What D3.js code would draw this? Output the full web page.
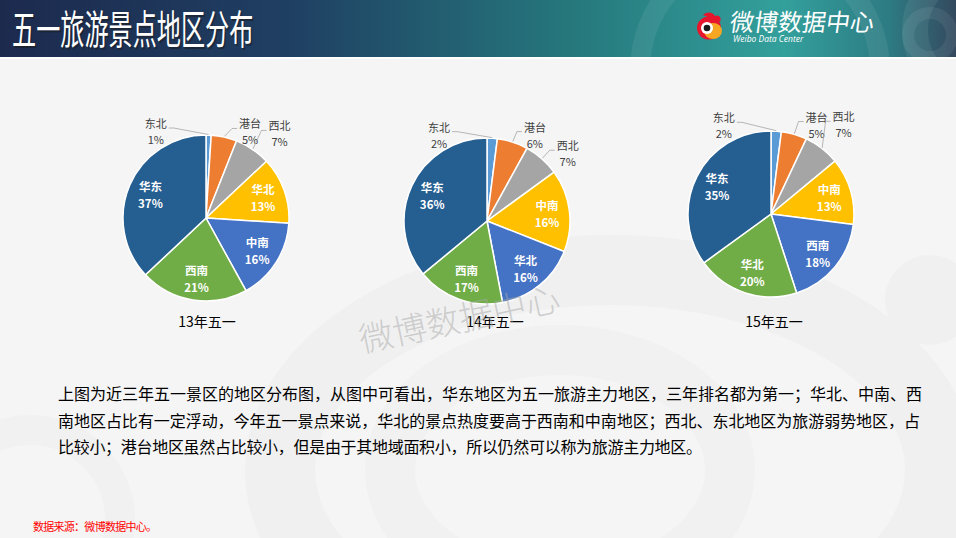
<!DOCTYPE html>
<html><head><meta charset="utf-8">
<script src="https://cdn.jsdelivr.net/npm/d3@7"></script>
<style>
html,body{margin:0;padding:0;background:#f5f5f5;}
svg{display:block;font-family:"Noto Sans CJK SC","Noto Sans",sans-serif;}
</style></head><body>
<svg id="chart" width="956" height="538"></svg>
<script>
// ---- data: share of May-Day scenic spot visits by region, slices clockwise from 12 o'clock
const years = ['13年五一','14年五一','15年五一'];
const regions13 = ['东北','港台','西北','华北','中南','西南','华东'];
const values13  = [1,5,7,13,16,21,37];
const regions14 = ['东北','港台','西北','中南','华北','西南','华东'];
const values14  = [2,6,7,16,16,17,36];
const regions15 = ['东北','港台','西北','中南','西南','华北','华东'];
const values15  = [2,5,7,13,18,20,35];
const sliceColors = ['#5b9bd5','#ed7d31','#a5a5a5','#ffc000','#4472c4','#70ad47','#255e91'];

const paragraph = [
  '上图为近三年五一景区的地区分布图，从图中可看出，华东地区为五一旅游主力地区，三年排名都为第一；华北、中南、西',
  '南地区占比有一定浮动，今年五一景点来说，华北的景点热度要高于西南和中南地区；西北、东北地区为旅游弱势地区，占',
  '比较小；港台地区虽然占比较小，但是由于其地域面积小，所以仍然可以称为旅游主力地区。'
];

// ---- layout
const W = 956, H = 538;
const R = 83;
const pieCenters = [[206,218],[487,221],[771,214]];
const captionDx = [1, 8, 3];
// where Excel dropped the small outside labels: [angle deg from top, radius factor]
const outsideSpots = [
  [[-30,1.21],[27,1.17],[41,1.35]],
  [[-29,1.19],[29,1.19],[50,1.27]],
  [[-28,1.21],[27,1.21],[39,1.39]]
];

const svg = d3.select('#chart');
const defs = svg.append('defs');

// background + faint weibo watermark
svg.append('rect').attr('width',W).attr('height',H).attr('fill','#f5f5f5');
const wm = svg.append('g').attr('fill','none');
wm.append('ellipse').attr('cx',610).attr('cy',470).attr('rx',330).attr('ry',200)
  .attr('stroke','#f0f0f0').attr('stroke-width',70);
wm.append('ellipse').attr('cx',560).attr('cy',470).attr('rx',170).attr('ry',120)
  .attr('stroke','#f1f1f1').attr('stroke-width',50);
wm.append('circle').attr('cx',930).attr('cy',300).attr('r',45).attr('fill','#f0f0f0');
wm.append('circle').attr('cx',30).attr('cy',520).attr('r',90).attr('stroke','#f1f1f1').attr('stroke-width',30);

// header band
const hg = defs.append('linearGradient').attr('id','hdr').attr('x1','0').attr('x2','1');
[['0%','#1c2a4e'],['30%','#1f3f62'],['60%','#26787d'],['82%','#33a09c'],['93%','#2d7b83'],['100%','#34495e']]
  .forEach(s=>hg.append('stop').attr('offset',s[0]).attr('stop-color',s[1]));
svg.append('rect').attr('width',W).attr('height',57).attr('fill','url(#hdr)');
const hc = svg.append('g').attr('fill','none').attr('stroke','#ffffff').attr('stroke-opacity',0.07);
hc.append('circle').attr('cx',975).attr('cy',30).attr('r',60).attr('stroke-width',26);
hc.append('circle').attr('cx',930).attr('cy',35).attr('r',22).attr('stroke-width',12);
hc.append('circle').attr('cx',760).attr('cy',70).attr('r',120).attr('stroke-width',20);
svg.append('rect').attr('y',57).attr('width',W).attr('height',2).attr('fill','#ffffff');

// condensed title: scale the glyphs horizontally
const title = '五一旅游景点地区分布';
svg.append('text').attr('transform','translate(13.5,45.5) scale(0.635,1.05)')
  .attr('font-size',38).attr('fill','#1a1a1a').attr('opacity',0.5).text(title);
svg.append('text').attr('transform','translate(12,44) scale(0.635,1.05)')
  .attr('font-size',38).attr('fill','#ffffff').text(title);

// weibo logo
const logo = svg.append('g').attr('transform','translate(709,28)');
logo.append('path').attr('d','M-6,-13 C-2,-17 4,-16 6,-12 C10,-14 13,-10 11,-6 Z').attr('fill','#e6162d');
logo.append('ellipse').attr('rx',12).attr('ry',11.5).attr('fill','#e6162d');
logo.append('ellipse').attr('cx',4).attr('cy',3).attr('rx',9).attr('ry',8).attr('fill','#f6a623');
logo.append('circle').attr('cx',-2).attr('cy',0).attr('r',6).attr('fill','#ffffff');
logo.append('circle').attr('cx',-2).attr('cy',0).attr('r',3.3).attr('fill','#1a1a1a');
svg.append('text').attr('transform','translate(729,31) skewX(-8)')
  .attr('font-size',24).attr('fill','#ffffff')
  .text('微博数据中心');
svg.append('text').attr('x',733).attr('y',42).attr('font-size',8.5).attr('fill','#ffffff')
  .attr('font-family','"Open Sans",sans-serif').attr('font-style','italic')
  .text('Weibo Data Center');

// ---- pies
const pieGen = d3.pie().sort(null).value(d=>d.v);
const arc = d3.arc().innerRadius(0).outerRadius(R);
const labelArc = d3.arc().innerRadius(R*0.73).outerRadius(R*0.73);
const polar = (deg, rad)=>[Math.sin(deg*Math.PI/180)*rad, -Math.cos(deg*Math.PI/180)*rad];

const allRegions = [regions13, regions14, regions15];
const allValues = [values13, values14, values15];

allValues.forEach((vals, i)=>{
  const data = vals.map((v,j)=>({name: allRegions[i][j], v}));
  const [cx, cy] = pieCenters[i];
  const g = svg.append('g').attr('transform',`translate(${cx},${cy})`);
  const arcs = pieGen(data);

  g.selectAll('path.slice').data(arcs).join('path')
    .attr('class','slice')
    .attr('d', arc)
    .attr('fill', (d,j)=>sliceColors[j])
    .attr('stroke','#ffffff').attr('stroke-width',1.5).attr('stroke-linejoin','round');

  // inside labels for the bigger slices
  const inner = arcs.filter(d=>d.data.v>=10);
  const il = g.selectAll('g.ilab').data(inner).join('g').attr('class','ilab')
    .attr('transform', d=>`translate(${labelArc.centroid(d)})`);
  il.append('text').attr('y',-8).text(d=>d.data.name);
  il.append('text').attr('y',9).text(d=>d.data.v+'%');
  il.selectAll('text').attr('text-anchor','middle').attr('dominant-baseline','central')
    .attr('fill','#ffffff').attr('font-size',11.5).attr('font-weight','bold');

  // outside labels with leader lines
  const outer = arcs.filter(d=>d.data.v<10);
  outer.forEach((d,k)=>{
    const [a, f] = outsideSpots[i][k];
    const [lx, ly] = polar(a, R*f);
    const mid = (d.startAngle + d.endAngle)/2*180/Math.PI;
    const p0 = polar(mid, R+0.5);
    const left = lx < p0[0];
    const ex = left ? lx + 13 : lx - 13;
    const ey = ly - 3;
    const p1 = [left ? ex + 5 : ex - 5, ey];
    g.append('path')
      .attr('d', d3.line()([p0, p1, [ex, ey]]))
      .attr('fill','none').attr('stroke','#a6a6a6').attr('stroke-width',0.8);
    const t = g.append('g').attr('transform',`translate(${lx},${ly})`);
    t.append('text').attr('y',-8).text(d.data.name);
    t.append('text').attr('y',8).text(d.data.v+'%');
    t.selectAll('text').attr('text-anchor','middle').attr('dominant-baseline','central')
      .attr('fill','#404040').attr('font-size',11);
  });

  svg.append('text').attr('x',cx+captionDx[i]).attr('y',321)
    .attr('text-anchor','middle').attr('dominant-baseline','central')
    .attr('font-size',14).attr('fill','#000000').text(years[i]);
});

// rotated watermark text on top of the charts
svg.append('text').attr('transform','translate(459,317) rotate(-12)')
  .attr('text-anchor','middle').attr('dominant-baseline','central')
  .attr('font-size',34).attr('fill','#a8a8a8').attr('fill-opacity',0.5)
  .attr('font-weight',300)
  .text('微博数据中心');

// ---- commentary
const paraLen = [864, 862, 644];
svg.append('g').selectAll('text').data(paragraph).join('text')
  .attr('x',58).attr('y',(d,i)=>393 + i*26.5)
  .attr('dominant-baseline','central')
  .attr('font-size',16).attr('fill','#000000')
  .attr('textLength',(d,i)=>paraLen[i]).attr('lengthAdjust','spacing')
  .text(d=>d);

svg.append('text').attr('x',33).attr('y',526).attr('dominant-baseline','central')
  .attr('font-size',11).attr('fill','#ff0000')
  .attr('textLength',124).attr('lengthAdjust','spacing')
  .text('数据来源：微博数据中心。');
</script>
</body></html>
